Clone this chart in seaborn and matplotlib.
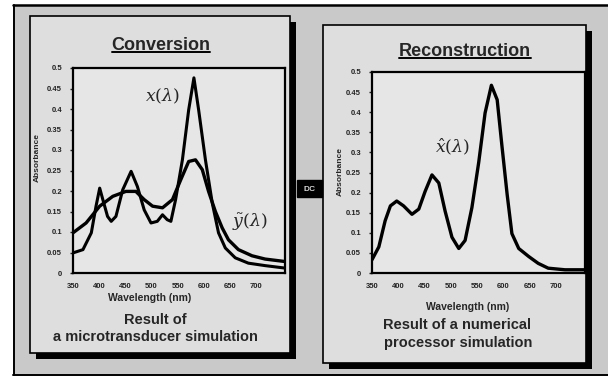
import numpy as np
import pandas as pd
import matplotlib
matplotlib.use("Agg")
import matplotlib.pyplot as plt
import seaborn as sns
from matplotlib.patches import Rectangle
from matplotlib.lines import Line2D

# --- data (wavelength in nm, absorbance) ---
lam_x = [350, 369, 385, 394, 401, 407, 416, 423, 432, 445, 461, 473, 486, 499,
         511, 521, 530, 537, 546, 559, 571, 581, 590, 603, 616, 628, 641, 660,
         685, 717, 755]
abs_x = [0.049, 0.057, 0.098, 0.163, 0.207, 0.179, 0.138, 0.126, 0.138, 0.203,
         0.248, 0.211, 0.154, 0.122, 0.126, 0.142, 0.130, 0.126, 0.179, 0.276,
         0.398, 0.476, 0.398, 0.276, 0.171, 0.098, 0.061, 0.037, 0.024, 0.018,
         0.012]

lam_y = [350, 375, 401, 426, 451, 470, 486, 502, 521, 540, 556, 571, 584, 597,
         609, 622, 635, 647, 666, 692, 717, 755]
abs_y = [0.098, 0.122, 0.163, 0.187, 0.199, 0.199, 0.179, 0.163, 0.159, 0.179,
         0.228, 0.272, 0.276, 0.252, 0.199, 0.150, 0.110, 0.081, 0.057, 0.042,
         0.034, 0.028]

lam_r = [350, 363, 375, 385, 397, 410, 426, 439, 451, 464, 477, 489, 502, 515,
         527, 540, 553, 565, 577, 588, 597, 607, 616, 629, 648, 666, 685, 717,
         755]
abs_r = [0.033, 0.065, 0.130, 0.167, 0.179, 0.167, 0.146, 0.159, 0.203, 0.244,
         0.224, 0.154, 0.089, 0.061, 0.081, 0.163, 0.276, 0.398, 0.467, 0.431,
         0.317, 0.195, 0.098, 0.061, 0.041, 0.024, 0.012, 0.008, 0.008]

x_ticks = [350, 400, 450, 500, 550, 600, 650, 700]
y_ticks = [0, 0.05, 0.1, 0.15, 0.2, 0.25, 0.3, 0.35, 0.4, 0.45, 0.5]
y_ticklabels = ["0", "0.05", "0.1", "0.15", "0.2", "0.25", "0.3", "0.35",
                "0.4", "0.45", "0.5"]

sns.set_style("ticks")
plt.rcParams["font.family"] = ["Liberation Sans", "DejaVu Sans"]
plt.rcParams["mathtext.fontset"] = "dejavuserif"

W, H = 608, 385
fig = plt.figure(figsize=(W / 100, H / 100), dpi=100)
fig.patch.set_facecolor("#c9c9c9")


def fx(x):
    return x / W


def fy(y):
    return 1 - y / H


def rect(x0, y0, x1, y1, **kw):
    r = Rectangle((fx(x0), fy(y1)), fx(x1) - fx(x0), fy(y0) - fy(y1),
                  transform=fig.transFigure, **kw)
    fig.add_artist(r)
    return r


def label(x, y, s, **kw):
    return fig.text(fx(x), fy(y), s, ha="center", va="center", **kw)


# white margin outside the scanned frame, then the frame
rect(0, 0, 608, 5, facecolor="white", edgecolor="none", zorder=0)
rect(0, 0, 13, 385, facecolor="white", edgecolor="none", zorder=0)
rect(0, 376, 608, 385, facecolor="white", edgecolor="none", zorder=0)
fig.add_artist(Line2D([fx(13), fx(608)], [fy(5), fy(5)], color="black",
                      lw=1.8, transform=fig.transFigure))
fig.add_artist(Line2D([fx(14), fx(14)], [fy(5), fy(375)], color="black",
                      lw=1.4, transform=fig.transFigure))
fig.add_artist(Line2D([fx(13), fx(608)], [fy(375), fy(375)], color="black",
                      lw=1.4, transform=fig.transFigure))

# panels with their drop shadows
for (x0, y0, x1, y1) in [(30, 16, 290, 353), (323, 25, 586, 363)]:
    rect(x0 + 6, y0 + 6, x1 + 6, y1 + 6, facecolor="black", edgecolor="none",
         zorder=1)
    rect(x0, y0, x1, y1, facecolor="#dedede", edgecolor="black", lw=1.2,
         zorder=2)

# small box between the panels
rect(297, 180, 322, 197, facecolor="black", edgecolor="black", zorder=3)
label(310, 189, "DC", fontsize=6, fontweight="bold", color="#d8d8d8",
      zorder=4)


def make_axes(x0, y0, x1, y1):
    ax = fig.add_axes([fx(x0), fy(y1), fx(x1) - fx(x0), fy(y0) - fy(y1)],
                      zorder=5)
    ax.set_facecolor("#e6e6e6")
    ax.set_xlim(350, 755)
    ax.set_ylim(0, 0.5)
    ax.set_xticks(x_ticks)
    ax.set_xticklabels([str(t) for t in x_ticks])
    ax.set_yticks(y_ticks)
    ax.set_yticklabels(y_ticklabels)
    ax.tick_params(axis="both", labelsize=5.5, length=2, width=1,
                   colors="#222222", pad=6)
    ax.tick_params(axis="x", length=0, pad=7)
    for t in ax.get_xticklabels() + ax.get_yticklabels():
        t.set_fontweight("bold")
    for sp in ax.spines.values():
        sp.set_visible(True)
        sp.set_linewidth(1.6)
        sp.set_color("black")
    ax.set_xlabel("")
    ax.set_ylabel("")
    return ax


ax1 = make_axes(73, 68, 285, 273)
sns.lineplot(x=lam_y, y=abs_y, ax=ax1, color="black", lw=2.4, sort=False)
sns.lineplot(x=lam_x, y=abs_x, ax=ax1, color="black", lw=2.2, sort=False)
ax1.text(520, 0.43, r"$x(\lambda)$", fontsize=12.5, ha="center",
         va="center")
ax1.text(688, 0.125, r"$\tilde{y}(\lambda)$", fontsize=12.5, ha="center",
         va="center")

ax2 = make_axes(372, 72, 585, 273)
sns.lineplot(x=lam_r, y=abs_r, ax=ax2, color="black", lw=2.4, sort=False)
ax2.text(503, 0.315, r"$\hat{x}(\lambda)$", fontsize=12.5, ha="center",
         va="center")

# texts
t1 = label(161, 45, "Conversion", fontsize=13, fontweight="bold", zorder=6)
t2 = label(465, 51, "Reconstruction", fontsize=13, fontweight="bold",
           zorder=6)
label(150, 298, "Wavelength (nm)", fontsize=7.5, fontweight="bold", zorder=6)
label(468, 307, "Wavelength (nm)", fontsize=7.5, fontweight="bold", zorder=6)
label(155, 320, "Result of", fontsize=10.5, fontweight="bold", zorder=6)
label(155, 337, "a microtransducer simulation", fontsize=10.5,
      fontweight="bold", zorder=6)
label(457, 325, "Result of a numerical", fontsize=10.5, fontweight="bold",
      zorder=6)
label(458, 343, "processor simulation", fontsize=10.5, fontweight="bold",
      zorder=6)
label(37, 158, "Absorbance", fontsize=6, fontweight="bold", rotation=90,
      zorder=6)
label(340, 172, "Absorbance", fontsize=6, fontweight="bold", rotation=90,
      zorder=6)

# underline the two titles
fig.canvas.draw()
renderer = fig.canvas.get_renderer()
for t in (t1, t2):
    bb = t.get_window_extent(renderer).transformed(fig.transFigure.inverted())
    fig.add_artist(Line2D([bb.x0, bb.x1], [bb.y0 + 0.004, bb.y0 + 0.004],
                          color="black", lw=1.4, transform=fig.transFigure,
                          zorder=6))

fig.savefig("out.png", dpi=100, facecolor=fig.get_facecolor())
